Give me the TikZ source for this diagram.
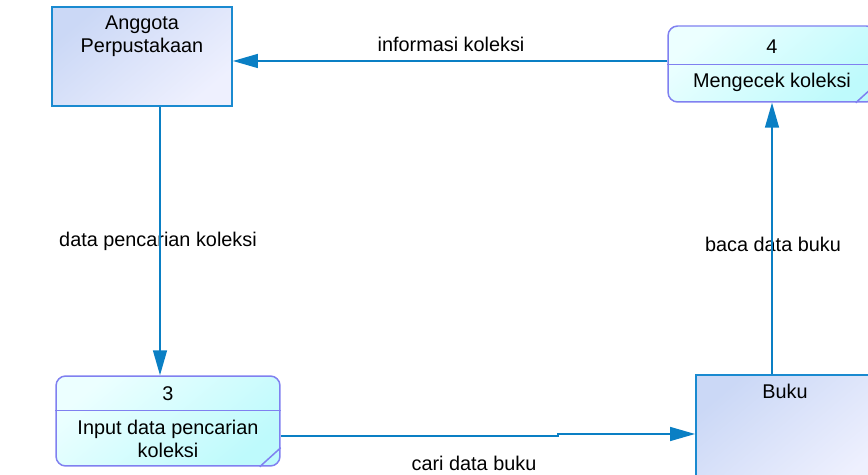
\documentclass[tikz,border=0pt]{standalone}
\usepackage{fontspec}
\setmainfont{Liberation Sans}
\definecolor{flowblue}{RGB}{10,127,196}
\definecolor{entityline}{RGB}{26,138,208}
\definecolor{entitytop}{RGB}{203,216,246}
\definecolor{entitybottom}{RGB}{238,240,254}
\definecolor{procline}{RGB}{128,128,240}
\definecolor{proctop}{RGB}{236,255,255}
\definecolor{procbottom}{RGB}{190,250,252}
\usetikzlibrary{arrows.meta,calc}
\tikzstyle{entity} = [
 rectangle,
 draw=entityline,
 line width=1.1pt,
 top color=entitytop,
 bottom color=entitybottom,
 shading angle=40
]
\tikzstyle{process} = [
 rectangle,
 draw=procline,
 line width=0.85pt,
 rounded corners=5.5pt,
 top color=proctop,
 bottom color=procbottom,
 shading angle=40
]
\tikzstyle{flow} = [
 draw=flowblue,
 line width=0.85pt,
 -{Triangle[length=0.5cm,width=0.28cm]}
]
\tikzstyle{txt} = [
 align = center,
 font=\fontsize{11.3}{13}\selectfont
]

\begin{document}
\begin{tikzpicture}[x=0.02cm,y=-0.02cm]
  \useasboundingbox (0,0) rectangle (868,475);
  \clip (0,0) rectangle (868,475);
  % entities
  \node [entity, minimum width=3.6cm, minimum height=1.98cm] (anggota) at (142,56.5) {};
  \node [txt, anchor=north] (anggotatxt) at ($(anggota.north)+(0,3.5)$) {Anggota\\Perpustakaan};
  \node [entity, minimum width=3.56cm, minimum height=2.36cm] (buku) at (785,434) {};
  \node [txt, anchor=north] (bukutxt) at ($(buku.north)+(0,3.5)$) {Buku};
  % process 3
  \node [process, minimum width=4.48cm, minimum height=1.8cm] (p3) at (168,421) {};
  \draw [procline, line width=0.85pt] ($(p3.north west)+(0,35)$) -- ($(p3.north east)+(0,35)$);
  \draw [procline, line width=0.85pt] ($(p3.south east)+(-21,0)$) -- ($(p3.south east)+(0,-19)$);
  \node [txt] (p3num) at ($(p3.north)+(0,18)$) {3};
  \node [txt] (p3name) at ($(p3.north)+(0,64)$) {Input data pencarian\\koleksi};
  % process 4
  \node [process, minimum width=4.16cm, minimum height=1.52cm] (p4) at (772,64) {};
  \draw [procline, line width=0.85pt] ($(p4.north west)+(0,39)$) -- ($(p4.north east)+(0,39)$);
  \draw [procline, line width=0.85pt] ($(p4.south east)+(-21,0)$) -- ($(p4.south east)+(0,-19)$);
  \node [txt] (p4num) at ($(p4.north)+(0,21)$) {4};
  \node [txt] (p4name) at ($(p4.north)+(0,57)$) {Mengecek koleksi};
  % flow labels
  \node [txt] (infolbl) at (451,44) {informasi koleksi};
  \node [txt] (datalbl) at (158,241) {data pencarian koleksi};
  \node [txt] (bacalbl) at (773,244) {baca data buku};
  \node [txt] (carilbl) at (474,463) {cari data buku};
  % flows
  \coordinate (infoy) at (0,61);
  \coordinate (datax) at (160,0);
  \coordinate (jog) at (558,436);
  \draw [flow] (p4.west |- infoy) -- (anggota.east |- infoy);
  \draw [flow] (anggota.south -| datax) -- (p3.north -| datax);
  \draw [flow] (p3.east |- jog) -- (jog) |- (buku.west);
  \draw [flow] (buku.north -| p4.south) -- (p4.south);
\end{tikzpicture}
\end{document}
